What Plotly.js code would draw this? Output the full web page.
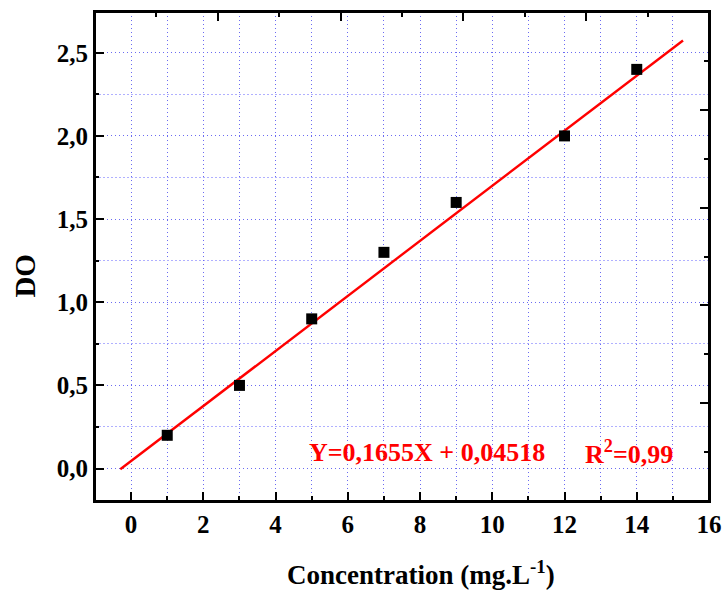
<!DOCTYPE html>
<html>
<head>
<meta charset="utf-8">
<script src="https://cdn.plot.ly/plotly-3.0.1.min.js"></script>
<style>
  html, body { margin: 0; padding: 0; background: #fff; }
  #chart { width: 728px; height: 599px; }
</style>
</head>
<body>
<div id="chart"></div>
<script>
// Calibration points: concentration (mg/L) vs measured DO
const concentration = [1, 3, 5, 7, 9, 12, 14];
const doValues = [0.2, 0.5, 0.9, 1.3, 1.6, 2.0, 2.4];

// Linear fit as reported
const fitSlope = 0.1655;
const fitIntercept = 0.04518;
const fitR2 = 0.99;
const fitX = [-0.3, 15.28];
const fitY = fitX.map(x => fitSlope * x + fitIntercept);

const fmt = (v) => String(v).replace('.', ',');
const serif = '"Liberation Serif", "Times New Roman", Times, serif';
const gridMajor = '#6b6bf2';
const gridMinor = '#b0b0ff';

const traces = [
  {
    x: fitX, y: fitY, type: 'scatter', mode: 'lines',
    line: { color: '#ff0000', width: 2.4 },
    hoverinfo: 'skip', showlegend: false
  },
  {
    x: concentration, y: doValues, type: 'scatter', mode: 'markers',
    marker: { symbol: 'square', size: 11, color: '#000000' },
    showlegend: false
  },
  // empty placeholders that attach the top and right frame axes to the plot
  { x: [null], y: [null], xaxis: 'x2', yaxis: 'y', type: 'scatter', mode: 'lines', showlegend: false, hoverinfo: 'skip' },
  { x: [null], y: [null], xaxis: 'x', yaxis: 'y2', type: 'scatter', mode: 'lines', showlegend: false, hoverinfo: 'skip' }
];

const tickFont = { family: serif, size: 25, color: '#000', weight: 'bold' };

const frameAxis = (extra) => Object.assign({
  range: [0, 5], dtick: 1,
  ticks: 'inside', ticklen: 9, tickwidth: 2, tickcolor: '#000',
  showline: true, linewidth: 2, linecolor: '#000',
  showticklabels: false, showgrid: false, zeroline: false,
  minor: { dtick: 0.5, ticks: 'inside', ticklen: 5, tickwidth: 2, tickcolor: '#000', showgrid: false }
}, extra);

const layout = {
  width: 728, height: 599,
  margin: { l: 95, r: 19, t: 12, b: 98 },
  paper_bgcolor: '#ffffff', plot_bgcolor: '#ffffff',
  separators: ',.',
  font: { family: serif, color: '#000' },
  showlegend: false,
  xaxis: {
    range: [-1, 16], tick0: 0, dtick: 2,
    ticks: 'inside', ticklen: 9, tickwidth: 2, tickcolor: '#000',
    showline: true, linewidth: 2, linecolor: '#000',
    showgrid: true, gridcolor: gridMajor, gridwidth: 1, griddash: '1px,3px',
    zeroline: false,
    tickfont: tickFont,
    minor: {
      dtick: 1, ticks: 'inside', ticklen: 5, tickwidth: 2, tickcolor: '#000',
      showgrid: true, gridcolor: gridMajor, gridwidth: 1, griddash: '1px,3px'
    }
  },
  yaxis: {
    range: [-0.195, 2.745], tick0: 0, dtick: 0.5, tickformat: '.1f',
    ticks: 'inside', ticklen: 9, tickwidth: 2, tickcolor: '#000',
    showline: true, linewidth: 2, linecolor: '#000',
    showgrid: true, gridcolor: gridMajor, gridwidth: 1, griddash: '1px,3px',
    zeroline: false,
    tickfont: tickFont,
    minor: {
      dtick: 0.25, ticks: 'inside', ticklen: 4, tickwidth: 2, tickcolor: '#000',
      showgrid: true, gridcolor: gridMinor, gridwidth: 1, griddash: '2px,2px'
    }
  },
  xaxis2: frameAxis({ overlaying: 'x', side: 'top', anchor: 'y' }),
  yaxis2: frameAxis({ overlaying: 'y', side: 'right', anchor: 'x' }),
  // closed frame around the plotting area
  shapes: [
    {
      type: 'rect', xref: 'paper', yref: 'paper', x0: 0, x1: 1, y0: 0, y1: 1,
      line: { color: '#000', width: 2 }, fillcolor: 'rgba(0,0,0,0)', layer: 'above'
    }
  ],
  annotations: [
    {
      text: '<b>Y=' + fmt(fitSlope) + 'X + ' + fmt(fitIntercept) + '</b>',
      xref: 'paper', yref: 'paper', x: 0.54, y: 0.10,
      xanchor: 'center', yanchor: 'middle', showarrow: false,
      font: { family: serif, size: 26, color: '#ff0000' }
    },
    {
      text: '<b>R<sup>2</sup>=' + fmt(fitR2) + '</b>',
      xref: 'paper', yref: 'paper', x: 0.87, y: 0.10,
      xanchor: 'center', yanchor: 'middle', showarrow: false,
      font: { family: serif, size: 26, color: '#ff0000' }
    },
    {
      text: '<b>Concentration (mg.L<sup>-1</sup>)</b>',
      xref: 'paper', yref: 'paper', x: 0.531, y: -0.147,
      xanchor: 'center', yanchor: 'middle', showarrow: false,
      font: { family: serif, size: 27, color: '#000' }
    },
    {
      text: '<b>DO</b>',
      xref: 'paper', yref: 'paper', x: -0.114, y: 0.461, textangle: -90,
      xanchor: 'center', yanchor: 'middle', showarrow: false,
      font: { family: serif, size: 29, color: '#000' }
    }
  ]
};

Plotly.newPlot('chart', traces, layout, { staticPlot: true, displayModeBar: false });
</script>
</body>
</html>
